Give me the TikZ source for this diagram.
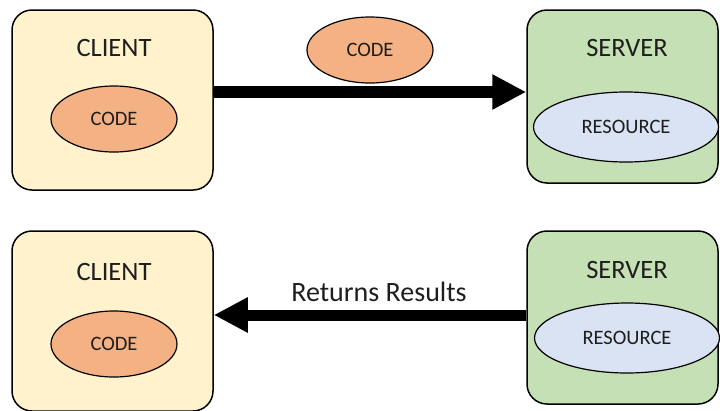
\documentclass[tikz,border=0pt]{standalone}
\usepackage{fontspec}
\setmainfont{Carlito}
\usetikzlibrary{arrows.meta,shapes.geometric}
\definecolor{clientfill}{HTML}{FFF2CC}
\definecolor{serverfill}{HTML}{C5E0B4}
\definecolor{codefill}{HTML}{F4B183}
\definecolor{resfill}{HTML}{DAE3F3}
\definecolor{txt}{HTML}{1E1E1E}
\begin{document}
\begin{tikzpicture}[x=1pt,y=-1pt,
	box/.style={draw,line width=1.5pt,rounded corners=20pt,inner sep=0pt},
	clientbox/.style={box,fill=clientfill,minimum width=201pt,minimum height=180pt},
	serverbox/.style={box,fill=serverfill,minimum width=191pt,minimum height=173pt},
	code/.style={ellipse,draw,line width=1.2pt,fill=codefill,minimum width=126pt,minimum height=66pt,inner sep=0pt,text=txt,font=\fontsize{20.5}{20.5}\selectfont},
	res/.style={ellipse,draw,line width=1.2pt,fill=resfill,minimum width=185pt,minimum height=70pt,inner sep=0pt,text=txt,font=\fontsize{20.5}{20.5}\selectfont},
	title/.style={text=txt,font=\fontsize{26.5}{26.5}\selectfont},
	bigarrow/.style={line width=12pt,-{Triangle[length=34pt,width=33pt]}}]
	\useasboundingbox (0,0) rectangle (720,410);
	
	% top row: client sends code
	\node [clientbox] (client1) at (112.5,100) {};
	\node [serverbox] (server1) at (622.5,96.5) {};
	\node [title] (clienttitle1) at (114,48) {CLIENT};
	\node [title] (servertitle1) at (627,48) {SERVER};
	\node [code] (code1) at (114,119) {CODE};
	\node [res] (res1) at (626,127) {RESOURCE};
	\node [code] (codemsg) at (370,50) {CODE};
	\draw [bigarrow] ([yshift=8pt]client1.east) -- ([yshift=8pt]client1.east -| server1.west);
	
	% bottom row: server returns results
	\node [clientbox] (client2) at (112.5,321) {};
	\node [serverbox] (server2) at (622.5,317.5) {};
	\node [title] (clienttitle2) at (114,272) {CLIENT};
	\node [title] (servertitle2) at (627,270) {SERVER};
	\node [code] (code2) at (114,344) {CODE};
	\node [res] (res2) at (627,338) {RESOURCE};
	\node [title,font=\fontsize{28}{28}\selectfont] (results) at (379,292) {Returns Results};
	\draw [bigarrow,line width=11pt] ([yshift=6pt]client2.east -| server2.west) -- ([yshift=6pt]client2.east);
\end{tikzpicture}
\end{document}
